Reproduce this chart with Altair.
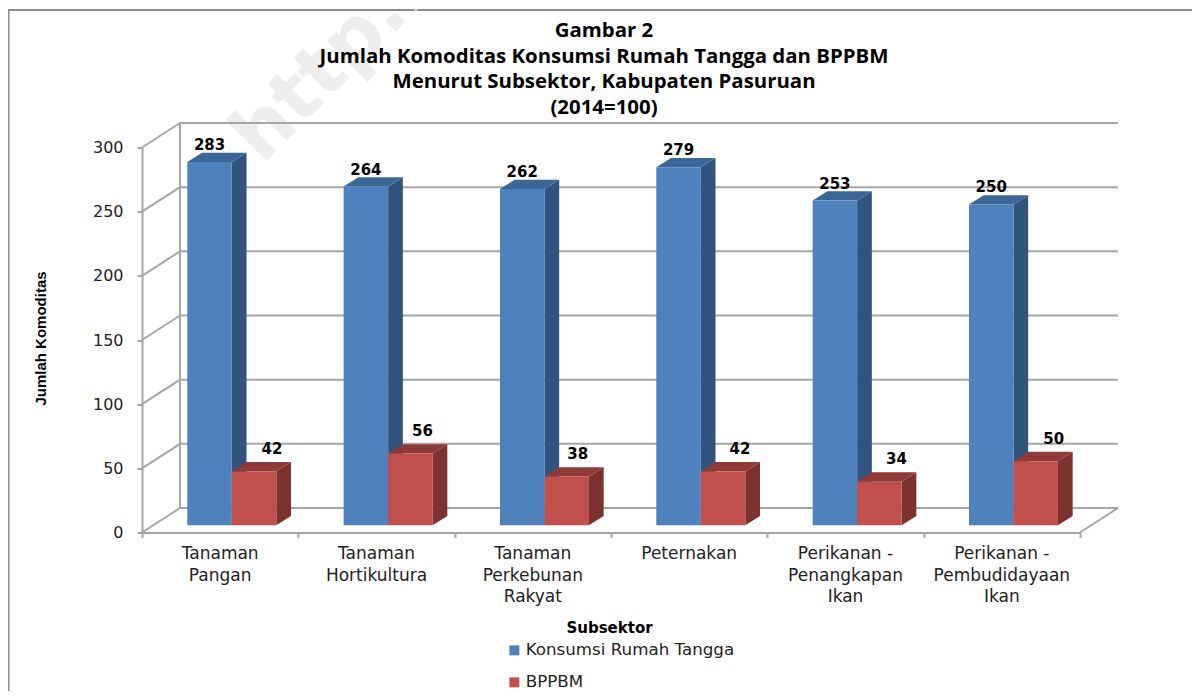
import altair as alt
import pandas as pd

categories = ["Tanaman\nPangan", "Tanaman\nHortikultura", "Tanaman\nPerkebunan\nRakyat",
              "Peternakan", "Perikanan -\nPenangkapan\nIkan", "Perikanan -\nPembudidayaan\nIkan"]
konsumsi = [283, 264, 262, 279, 253, 250]
bppbm = [42, 56, 38, 42, 34, 50]
ticks = [0, 50, 100, 150, 200, 250, 300]
title_text = "Gambar 2\nJumlah Komoditas Konsumsi Rumah Tangga dan BPPBM\nMenurut Subsektor, Kabupaten Pasuruan\n(2014=100)"
s1, s2 = "Konsumsi Rumah Tangga", "BPPBM"

# geometry (pixels)
L, R, T, B = 142, 1080, 147.5, 532.5
W, H = R - L, B - T
PX = W / 6
PY = H / 300
FONT = "DejaVu Sans"
GRID = "#a6a6a6"
BACK_DX, BACK_DY = 38 / PX, 24.5 / PY
BASE = 7.2 / PY
DEPTH_X, DEPTH_Y = 14.7 / PX, 9.3 / PY
BAR_L = 45.3 / PX
BAR_W = 44.5 / PX
red_nudge = [18, 12, 11, 17, 17, 18]

xs = alt.Scale(domain=[0, 6], nice=False, zero=False)
ys = alt.Scale(domain=[0, 300], nice=False, zero=False)

axis_style = dict(domainColor=GRID, domainWidth=2, tickColor=GRID, tickWidth=2, tickSize=5, grid=False)
x_axis = alt.Axis(values=list(range(7)), labels=False, title="Subsektor", titleFont=FONT, titleFontSize=15,
                  titleFontWeight="bold", titleColor="#000000", titleX=467, titleY=94.5,
                  titleBaseline="middle", titleAlign="center", **axis_style)
y_axis = alt.Axis(values=ticks, labelFont=FONT, labelFontSize=16, labelColor="#222222", labelPadding=14,
                  title="Jumlah Komoditas", titleFont="Liberation Sans", titleFontSize=15,
                  titleFontWeight="bold", titleColor="#000000", titleX=40 - L, titleY=338 - T,
                  titleBaseline="middle", titleAlign="center", **axis_style)


def X(f):
    return alt.X(f + ":Q", scale=xs, axis=x_axis)


def Y(f):
    return alt.Y(f + ":Q", scale=ys, axis=y_axis)


rows = []
for i, (a, b) in enumerate(zip(konsumsi, bppbm)):
    rows.append(dict(id=f"a{i}", series=s1, v=a, l=i + BAR_L, r=i + BAR_L + BAR_W))
    rows.append(dict(id=f"b{i}", series=s2, v=b, l=i + BAR_L + BAR_W, r=i + BAR_L + 2 * BAR_W))
bars = pd.DataFrame(rows)
bars["y0"] = BASE
bars["y1"] = BASE + bars.v


def side(d):
    out = []
    for _, r in d.iterrows():
        out.append(dict(id=r.id, x=r.r, lo=BASE, hi=r.y1))
        out.append(dict(id=r.id, x=r.r + DEPTH_X, lo=BASE + DEPTH_Y, hi=r.y1 + DEPTH_Y))
    return pd.DataFrame(out)


def top(d):
    out = []
    for _, r in d.iterrows():
        out.append(dict(id=r.id, y=r.y1, a=r.l, b=r.r))
        out.append(dict(id=r.id, y=r.y1 + DEPTH_Y, a=r.l + DEPTH_X, b=r.r + DEPTH_X))
    return pd.DataFrame(out)


layers = []

# frame
layers.append(alt.Chart(pd.DataFrame({"a": [0]})).mark_rule(color="#8c8c8c", strokeWidth=2).encode(
    x=alt.value(8 - L), x2=alt.value(1192 - L), y=alt.value(10 - T)))
layers.append(alt.Chart(pd.DataFrame({"a": [0]})).mark_rule(color="#8c8c8c", strokeWidth=3).encode(
    x=alt.value(8 - L), y=alt.value(10 - T), y2=alt.value(691 - T)))

# watermark
layers.append(alt.Chart(pd.DataFrame({"t": ["http..."]})).mark_text(
    font=FONT, fontSize=76, fontWeight="bold", color="#eeeeee", angle=315, align="left",
    baseline="alphabetic").encode(x=alt.value(262 - L), y=alt.value(165 - T), text="t:N"))

# walls
gd = pd.DataFrame({"t": ticks})
gd["y"] = gd.t + BACK_DY
gd["xa"] = BACK_DX
gd["xb"] = 6 + BACK_DX
layers.append(alt.Chart(gd).mark_rule(color=GRID, strokeWidth=2).encode(x=X("xa"), x2="xb:Q", y=Y("y")))
layers.append(alt.Chart(pd.DataFrame({"x": [BACK_DX], "a": [BACK_DY], "b": [300 + BACK_DY]})).mark_rule(
    color=GRID, strokeWidth=2).encode(x=X("x"), y=Y("a"), y2="b:Q"))
diag = []
for t in ticks:
    diag += [dict(id=t, x=0, y=t), dict(id=t, x=BACK_DX, y=t + BACK_DY)]
diag += [dict(id="f", x=6, y=0), dict(id="f", x=6 + BACK_DX, y=BACK_DY)]
layers.append(alt.Chart(pd.DataFrame(diag)).mark_line(color=GRID, strokeWidth=2).encode(
    x=X("x"), y=Y("y"), detail="id:N"))

# bars
for series, front, sc, tc in [(s1, "#4f81bd", "#31547f", "#3b6696"), (s2, "#c0504d", "#7b3231", "#8e3a38")]:
    d = bars[bars.series == series]
    layers.append(alt.Chart(side(d)).mark_area(color=sc, orient="vertical").encode(
        x=X("x"), y=Y("lo"), y2="hi:Q", detail="id:N"))
    layers.append(alt.Chart(top(d)).mark_area(color=tc, orient="horizontal").encode(
        x=X("a"), x2="b:Q", y=Y("y"), detail="id:N"))
    layers.append(alt.Chart(d).mark_bar().encode(
        x=X("l"), x2="r:Q", y=Y("y0"), y2="y1:Q",
        color=alt.Color("series:N", scale=alt.Scale(domain=[s1, s2], range=["#4f81bd", "#c0504d"]),
                        legend=alt.Legend(title=None, orient="none", legendX=506 - L, legendY=642 - T,
                                          symbolType="square", symbolSize=100, labelFont=FONT,
                                          labelFontSize=16.7, labelColor="#222222", rowPadding=14,
                                          labelOffset=3, symbolStrokeWidth=0, labelLimit=400))))

# value labels
lab = bars.copy()
lab["cx"] = (lab.l + lab.r) / 2
lab["cy"] = lab.y1 + 17 / PY
mask = lab.series == s2
lab.loc[mask, "cx"] = lab.loc[mask, "cx"] + [n / PX for n in red_nudge]
lab.loc[mask, "cy"] = lab.loc[mask, "y1"] + 22.5 / PY
layers.append(alt.Chart(lab).mark_text(font=FONT, fontSize=15, fontWeight="bold", color="#000000",
                                       baseline="middle").encode(x=X("cx"), y=Y("cy"), text="v:Q"))

# category labels
cat = pd.DataFrame({"c": categories, "x": [i + 0.5 for i in range(6)], "y": [-(13.5 / PY)] * 6})
layers.append(alt.Chart(cat).mark_text(font=FONT, fontSize=17, color="#222222", baseline="top", align="center",
                                       lineBreak="\n", lineHeight=21.5).encode(x=X("x"), y=Y("y"), text="c:N"))

# chart title
layers.append(alt.Chart(pd.DataFrame({"t": [title_text]})).mark_text(
    font="Open Sans", fontSize=20.4, fontWeight="bold", color="#000000", baseline="top", align="center",
    lineBreak="\n", lineHeight=25.5).encode(x=alt.value(604 - L), y=alt.value(21 - T), text="t:N"))

chart = alt.layer(*layers).properties(
    width=W, height=H,
    autosize=alt.AutoSizeParams(type="none"),
    padding={"left": L - 8, "top": T - 8, "right": 1192 - R, "bottom": 691 - B},
).configure(background="#ffffff").configure_view(stroke=None)

chart.save("out.html", embed_options={"renderer": "svg", "actions": False})
